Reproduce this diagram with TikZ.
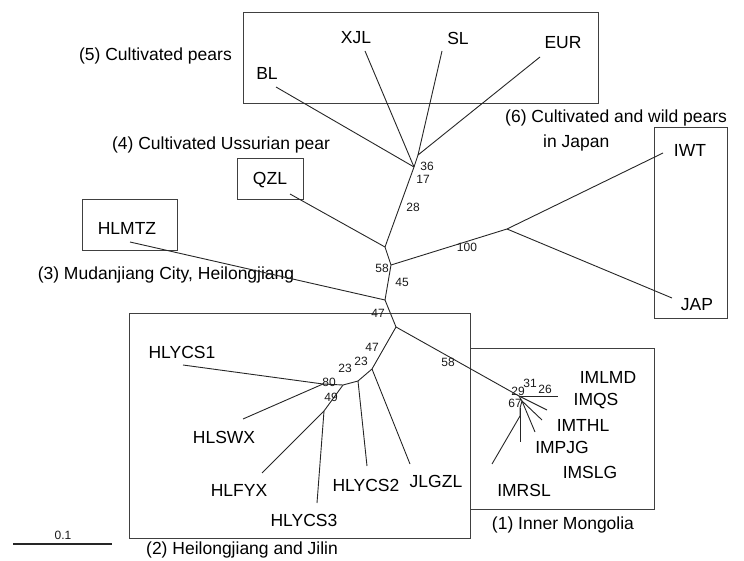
\documentclass[tikz,border=0pt]{standalone}
\usepackage{fontspec}
\setmainfont{Liberation Sans}

\begin{document}
\begin{tikzpicture}[x=1pt,y=-1pt,
    taxon/.style={font=\fontsize{17.5}{20}\selectfont, inner sep=1pt, text=black},
    grp/.style={font=\fontsize{17.5}{20}\selectfont, inner sep=0pt, text=black},
    boot/.style={font=\fontsize{12}{13}\selectfont, inner sep=0pt, text=black!90},
    branch/.style={line width=0.9pt, draw=black!85},
    cluster/.style={line width=0.9pt, draw=black!75}]
    \useasboundingbox (0,0) rectangle (744,561);

    % group boxes
    \draw[cluster] (243,12) rectangle (598,103);
    \draw[cluster] (237,158) rectangle (303,199);
    \draw[cluster] (82,199) rectangle (177,250);
    \draw[cluster] (654,127) rectangle (727,318);
    \draw[cluster] (129,313) rectangle (470,538);
    \draw[cluster] (470,348) rectangle (654,509);

    % group names
    \node[grp, anchor=east] (g5) at (232,56) {(5) Cultivated pears};
    \node[grp] (g4) at (221,145) {(4) Cultivated Ussurian pear};
    \node[grp] (g3) at (166,275) {(3) Mudanjiang City, Heilongjiang};
    \node[grp, anchor=west] (g6a) at (505,118) {(6) Cultivated and wild pears};
    \node[grp, anchor=west] (g6b) at (543,143) {in Japan};
    \node[grp] (g2) at (242,550) {(2) Heilongjiang and Jilin};
    \node[grp] (g1) at (563,525) {(1) Inner Mongolia};

    % inner points of the tree
    \coordinate (t36) at (414,167);
    \coordinate (t17) at (418,155);
    \coordinate (t28) at (385,247);
    \coordinate (t58) at (391,265);
    \coordinate (t100) at (507,229);
    \coordinate (t45) at (385,300);
    \coordinate (t47) at (396,327);
    \coordinate (h1) at (372,369);
    \coordinate (h2) at (358,381);
    \coordinate (h3) at (343,385);
    \coordinate (h4) at (323,384);
    \coordinate (h5) at (324,411);
    \coordinate (m0) at (519,396);
    \coordinate (m1) at (522,401);
    \coordinate (m2) at (520,408);
    \coordinate (m3) at (520,416);

    % tips
    \coordinate (eBL) at (276,87);
    \coordinate (eXJL) at (365,51);
    \coordinate (eSL) at (442,51);
    \coordinate (eEUR) at (540,57);
    \coordinate (eQZL) at (290,194);
    \coordinate (eHLMTZ) at (130,242);
    \coordinate (eIWT) at (663,153);
    \coordinate (eJAP) at (672,298);
    \coordinate (eHLYCS1) at (183,365);
    \coordinate (eHLSWX) at (243,419);
    \coordinate (eHLFYX) at (262,473);
    \coordinate (eHLYCS3) at (317,503);
    \coordinate (eHLYCS2) at (367,466);
    \coordinate (eJLGZL) at (410,464);
    \coordinate (eIMLMD) at (558,396);
    \coordinate (eIMQS) at (547,410);
    \coordinate (eIMTHL) at (542,420);
    \coordinate (eIMPJG) at (535,432);
    \coordinate (eIMSLG) at (520,442);
    \coordinate (eIMRSL) at (492,464);

    % branches
    \draw[branch] (eBL) -- (t36);
    \draw[branch] (eXJL) -- (t36);
    \draw[branch] (eSL) -- (t17);
    \draw[branch] (eEUR) -- (t17);
    \draw[branch] (t17) -- (t36) -- (t28) -- (t58) -- (t45) -- (t47);
    \draw[branch] (eQZL) -- (t28);
    \draw[branch] (t58) -- (t100);
    \draw[branch] (t100) -- (eIWT);
    \draw[branch] (t100) -- (eJAP);
    \draw[branch] (eHLMTZ) -- (t45);
    \draw[branch] (t47) -- (h1) -- (h2) -- (h3) -- (h4);
    \draw[branch] (h1) -- (eJLGZL);
    \draw[branch] (h2) -- (eHLYCS2);
    \draw[branch] (h4) -- (eHLYCS1);
    \draw[branch] (h4) -- (eHLSWX);
    \draw[branch] (h3) -- (h5) -- (eHLFYX);
    \draw[branch] (h5) -- (eHLYCS3);
    \draw[branch] (t47) -- (m0);
    \draw[branch] (m0) -- (eIMLMD);
    \draw[branch] (m0) -- (eIMQS);
    \draw[branch] (m0) -- (m1) -- (m2) -- (m3);
    \draw[branch] (m1) -- (eIMTHL);
    \draw[branch] (m1) -- (eIMPJG);
    \draw[branch] (m2) -- (eIMSLG);
    \draw[branch] (m3) -- (eIMRSL);

    % taxa
    \node[taxon] (BL) at (267,73) {BL};
    \node[taxon] (XJL) at (356,38) {XJL};
    \node[taxon] (SL) at (458,38) {SL};
    \node[taxon] (EUR) at (563,43) {EUR};
    \node[taxon] (QZL) at (270,180) {QZL};
    \node[taxon] (HLMTZ) at (127,228) {HLMTZ};
    \node[taxon] (IWT) at (690,150) {IWT};
    \node[taxon] (JAP) at (697,305) {JAP};
    \node[taxon] (HLYCS1) at (182,352) {HLYCS1};
    \node[taxon] (HLSWX) at (224,437) {HLSWX};
    \node[taxon] (HLFYX) at (239,490) {HLFYX};
    \node[taxon] (HLYCS3) at (304,520) {HLYCS3};
    \node[taxon] (HLYCS2) at (366,485) {HLYCS2};
    \node[taxon, fill=white] (JLGZL) at (436,481) {JLGZL};
    \node[taxon] (IMLMD) at (608,377) {IMLMD};
    \node[taxon] (IMQS) at (596,401) {IMQS};
    \node[taxon] (IMTHL) at (583,425) {IMTHL};
    \node[taxon] (IMPJG) at (562,447) {IMPJG};
    \node[taxon] (IMSLG) at (590,472) {IMSLG};
    \node[taxon] (IMRSL) at (524,490) {IMRSL};

    % bootstrap values
    \node[boot] (b36) at (427,166) {36};
    \node[boot] (b17) at (423,179) {17};
    \node[boot] (b28) at (413,207) {28};
    \node[boot] (b58) at (382,268) {58};
    \node[boot] (b100) at (467,247) {100};
    \node[boot] (b45) at (402,282) {45};
    \node[boot] (b47a) at (378,313) {47};
    \node[boot] (b47b) at (372,347) {47};
    \node[boot] (b23a) at (361,361) {23};
    \node[boot] (b23b) at (345,368) {23};
    \node[boot] (b80) at (329,382) {80};
    \node[boot] (b49) at (331,397) {49};
    \node[boot] (b58m) at (448,362) {58};
    \node[boot] (b29) at (518,391) {29};
    \node[boot] (b31) at (530,383) {31};
    \node[boot] (b26) at (545,389) {26};
    \node[boot] (b67) at (515,403) {67};

    % scale bar
    \coordinate (s0) at (13,544);
    \coordinate (s1) at (112,544);
    \draw[branch, line width=1.2pt] (s0) -- (s1);
    \node[boot] (sc) at (63,535) {0.1};
\end{tikzpicture}
\end{document}
